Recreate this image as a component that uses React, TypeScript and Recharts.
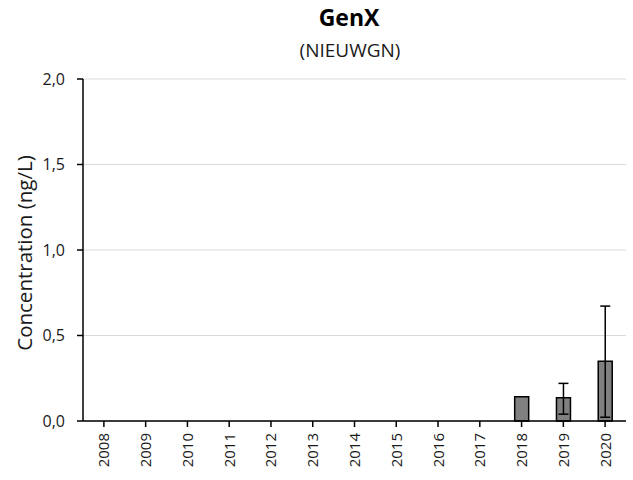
import { BarChart, Bar, XAxis, YAxis, CartesianGrid, ErrorBar } from 'recharts'

// GenX concentration per year at NIEUWGN
const years = ['2008', '2009', '2010', '2011', '2012', '2013', '2014', '2015', '2016', '2017', '2018', '2019', '2020']
const values: (number | null)[] = [null, null, null, null, null, null, null, null, null, null, 0.142, 0.136, 0.35]
const errLow: (number | null)[] = [null, null, null, null, null, null, null, null, null, null, null, 0.04, 0.022]
const errHigh: (number | null)[] = [null, null, null, null, null, null, null, null, null, null, null, 0.22, 0.672]
const yTicks = [0, 0.5, 1, 1.5, 2]

const data = years.map((year, i) => ({
  year,
  value: values[i],
  error:
    values[i] != null && errLow[i] != null && errHigh[i] != null
      ? [(values[i] as number) - (errLow[i] as number), (errHigh[i] as number) - (values[i] as number)]
      : null,
}))

const FONT = '"Open Sans", sans-serif'

const YearTick = (props: any) => {
  const { x, y, payload } = props
  return (
    <g transform={`translate(${x},${y})`}>
      <text
        transform="rotate(-90)"
        x={-4}
        y={0}
        dy={5.5}
        textAnchor="end"
        fontSize={15}
        fontFamily={FONT}
        fill="#1a1a1a"
      >
        {payload.value}
      </text>
    </g>
  )
}

const ValueTick = (props: any) => {
  const { x, y, payload } = props
  return (
    <text x={x - 10} y={y} dy={5.5} textAnchor="end" fontSize={16} fontFamily={FONT} fill="#1a1a1a">
      {Number(payload.value).toFixed(1).replace('.', ',')}
    </text>
  )
}

const App = () => {
  return (
    <div style={{ position: 'absolute', left: 0, top: 0, width: 633, height: 480, background: '#fff' }}>
      <div
        style={{
          position: 'absolute',
          left: 0,
          width: 698,
          top: 1,
          textAlign: 'center',
          fontFamily: FONT,
          fontWeight: 700,
          fontSize: 23,
          color: '#000',
        }}
      >
        GenX
      </div>
      <div
        style={{
          position: 'absolute',
          left: 0,
          width: 700,
          top: 37,
          textAlign: 'center',
          fontFamily: FONT,
          fontSize: 19,
          color: '#1a1a1a',
        }}
      >
        (NIEUWGN)
      </div>
      <BarChart
        width={633}
        height={480}
        data={data}
        margin={{ top: 79, right: 7, left: 0, bottom: 0 }}
        barCategoryGap={0}
      >
        <CartesianGrid vertical={false} stroke="#d9d9d9" strokeWidth={1} />
        <XAxis
          dataKey="year"
          height={59}
          interval={0}
          tick={<YearTick />}
          tickSize={6}
          axisLine={{ stroke: '#000', strokeWidth: 1.5 }}
          tickLine={{ stroke: '#000', strokeWidth: 1.5 }}
        />
        <XAxis xAxisId="top" orientation="top" dataKey="year" height={0} tick={false} tickLine={false} axisLine={{ stroke: '#000', strokeWidth: 1.5 }} />
        <YAxis
          width={83}
          domain={[0, 2]}
          ticks={yTicks}
          interval={0}
          tickSize={6}
          tick={<ValueTick />}
          axisLine={{ stroke: '#000', strokeWidth: 1.5 }}
          tickLine={{ stroke: '#000', strokeWidth: 1.5 }}
          label={{
            content: () => (
              <text
                x={24}
                y={253}
                transform="rotate(-90 24 253)"
                textAnchor="middle"
                dominantBaseline="central"
                fontSize={20.5}
                fontFamily={FONT}
                fill="#1a1a1a"
              >
                Concentration (ng/L)
              </text>
            ),
          }}
        />
        <YAxis yAxisId="right" orientation="right" width={0} domain={[0, 2]} tick={false} tickLine={false} axisLine={{ stroke: '#000', strokeWidth: 1.5 }} />
        <Bar dataKey="value" fill="#808080" stroke="#000" strokeWidth={1.5} barSize={14} isAnimationActive={false}>
          <ErrorBar dataKey="error" width={5} stroke="#000" strokeWidth={1.5} direction="y" />
        </Bar>
      </BarChart>
    </div>
  )
}

export default App
